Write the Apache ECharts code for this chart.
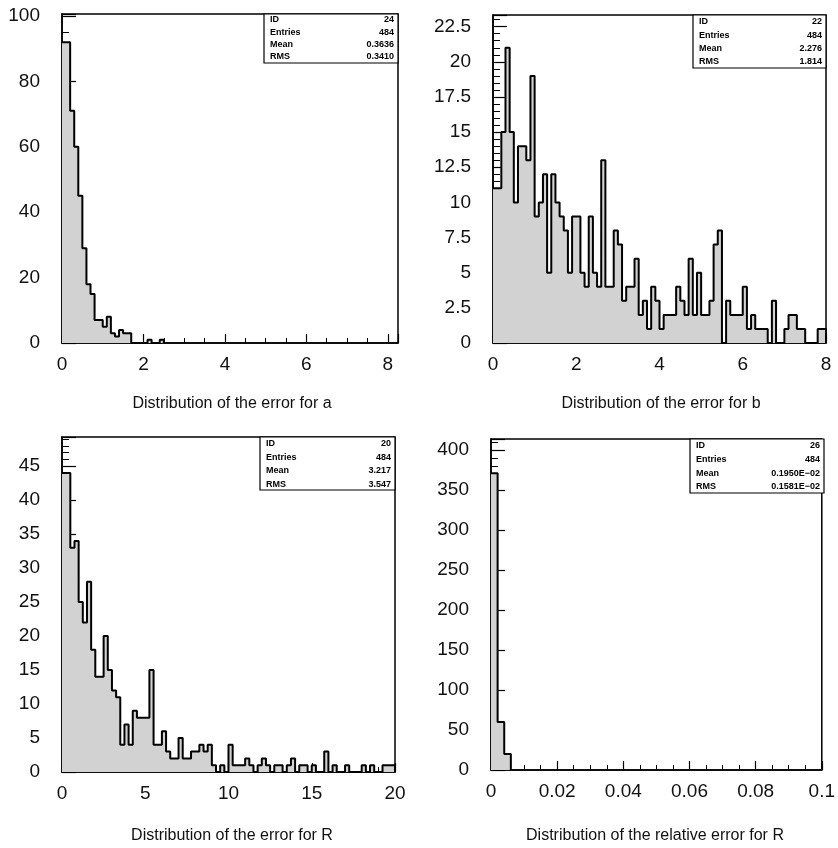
<!DOCTYPE html>
<html>
<head>
<meta charset="utf-8">
<script src="https://cdn.jsdelivr.net/npm/echarts@6/dist/echarts.min.js"></script>
<style>
html, body { margin: 0; padding: 0; background: #fff; }
#chart { width: 838px; height: 848px; }
</style>
</head>
<body>
<div id="chart"></div>
<script>
// ---- histogram contents (bins start at 0) ----
const binWidthA = 0.1;
const countsA = [92, 92, 71, 60, 45, 29, 18, 15, 7, 7, 5, 8, 3, 2, 4, 3, 3, 0, 0, 0, 0, 1, 0, 0, 1];

const binWidthB = 0.1;
const countsB = [11, 11, 15, 21, 15, 10, 14, 14, 13, 19,
                 9, 10, 12, 5, 12, 10, 9, 8, 5, 9,
                 9, 5, 4, 9, 5, 4, 13, 4, 4, 8,
                 7, 3, 4, 4, 6, 2, 3, 1, 4, 3,
                 1, 2, 2, 2, 4, 3, 2, 6, 2, 5,
                 2, 2, 3, 7, 8, 0, 3, 2, 2, 2,
                 4, 1, 2, 1, 1, 1, 0, 3, 0, 0,
                 1, 2, 2, 1, 1, 0, 0, 0, 1, 1];

const binWidthR = 0.25;
const countsR = [44, 44, 33, 34, 25, 22, 28, 18, 14, 14,
                 20, 15, 12, 11, 4, 7, 4, 9, 8, 8,
                 8, 15, 4, 4, 6, 3, 2, 2, 5, 2,
                 2, 3, 3, 4, 3, 4, 1, 0, 1, 0,
                 4, 1, 1, 1, 2, 1, 0, 1, 2, 1,
                 0, 1, 1, 0, 1, 2, 0, 1, 1, 0,
                 1, 0, 0, 3, 0, 1, 0, 0, 1, 0,
                 0, 0, 1, 0, 1, 0, 0, 1, 1, 1];

const binWidthRel = 0.002;
const countsRel = [371, 60, 20];

// ---- texts ----
const titles = [
  'Distribution of the error for a',
  'Distribution of the error for b',
  'Distribution of the error for R',
  'Distribution of the relative error for R'
];
const statLabels = ['ID', 'Entries', 'Mean', 'RMS'];
const statsA = ['24', '484', '0.3636', '0.3410'];
const statsB = ['22', '484', '2.276', '1.814'];
const statsR = ['20', '484', '3.217', '3.547'];
const statsRel = ['26', '484', '0.1950E\u221202', '0.1581E\u221202'];

// ---- layout of the four frames ----
const panels = [
  { counts: countsA, width: binWidthA, stats: statsA, title: titles[0],
    grid: { left: 62, top: 14, width: 336, height: 329 },
    x: { max: 8.25, interval: 2, minor: 4, digits: 0 },
    y: { max: 100.6, interval: 20, minor: 4, digits: 0 },
    box: { x: 264, y: 14, w: 134, h: 49, rows: [20, 32.5, 45, 57] },
    titlePos: [232, 404] },
  { counts: countsB, width: binWidthB, stats: statsB, title: titles[1],
    grid: { left: 493, top: 15, width: 333, height: 328 },
    x: { max: 8, interval: 2, minor: 4, digits: 0 },
    y: { max: 23.33, interval: 2.5, minor: 5, digits: 1 },
    box: { x: 693, y: 15, w: 133, h: 53, rows: [22, 35.5, 48.5, 61.5] },
    titlePos: [661, 404] },
  { counts: countsR, width: binWidthR, stats: statsR, title: titles[2],
    grid: { left: 62, top: 437, width: 333, height: 335 },
    x: { max: 20, interval: 5, minor: 5, digits: 0 },
    y: { max: 49.3, interval: 5, minor: 5, digits: 0 },
    box: { x: 260, y: 437, w: 135, h: 53, rows: [444, 457.5, 471, 484.5] },
    titlePos: [232, 836] },
  { counts: countsRel, width: binWidthRel, stats: statsRel, title: titles[3],
    grid: { left: 491, top: 439, width: 333, height: 331 },
    x: { max: 0.1, interval: 0.02, minor: 4, digits: 2 },
    y: { max: 413.7, interval: 50, minor: 5, digits: 0 },
    box: { x: 690, y: 439, w: 134, h: 54, rows: [446, 460, 473.5, 487] },
    titlePos: [655, 836] }
];

const FONT = 'Liberation Sans';
const TITLE_FONT = '"Liberation Sans Narrow", "Liberation Sans", sans-serif';

// step outline points: one point per bin at its left edge, then a drop to zero
function stepPoints(counts, w) {
  const pts = counts.map((c, i) => [i * w, c]);
  pts.push([counts.length * w, 0]);
  return pts;
}

function tickFormatter(interval, digits) {
  return function (v) {
    const r = v / interval;
    if (Math.abs(r - Math.round(r)) > 1e-6) return '';
    return String(Number(v.toFixed(digits + 2)));
  };
}

const grids = [], xAxes = [], yAxes = [], series = [], graphics = [];

panels.forEach((p, i) => {
  grids.push(Object.assign({ show: true, borderColor: '#000', borderWidth: 1.5,
                             backgroundColor: 'transparent' }, p.grid));
  xAxes.push({
    type: 'value', gridIndex: i, min: 0, max: p.x.max, interval: p.x.interval,
    axisLine: { show: true, onZero: false, lineStyle: { color: '#000', width: 1.5 } },
    axisTick: { show: true, inside: true, length: 9, lineStyle: { color: '#000', width: 1.2 } },
    minorTick: { show: true, splitNumber: p.x.minor, length: 5, lineStyle: { color: '#000', width: 1 } },
    splitLine: { show: false },
    axisLabel: { color: '#111', fontFamily: FONT, fontSize: 19, margin: 12,
                 formatter: tickFormatter(p.x.interval, p.x.digits) }
  });
  yAxes.push({
    type: 'value', gridIndex: i, min: 0, max: p.y.max, interval: p.y.interval,
    axisLine: { show: true, onZero: false, lineStyle: { color: '#000', width: 1.5 } },
    axisTick: { show: true, inside: true, length: 14, lineStyle: { color: '#000', width: 1.2 } },
    minorTick: { show: true, splitNumber: p.y.minor, length: 7, lineStyle: { color: '#000', width: 1 } },
    splitLine: { show: false },
    axisLabel: { color: '#111', fontFamily: FONT, fontSize: 19, margin: 22,
                 formatter: tickFormatter(p.y.interval, p.y.digits) }
  });
  series.push({
    type: 'line', xAxisIndex: i, yAxisIndex: i, step: 'end',
    data: stepPoints(p.counts, p.width),
    symbol: 'none', silent: true, animation: false, z: 2,
    lineStyle: { color: '#000', width: 2 },
    areaStyle: { color: '#d2d2d2', opacity: 1 }
  });

  // statistics box
  const b = p.box;
  graphics.push({ type: 'rect', z: 100,
    shape: { x: b.x, y: b.y, width: b.w, height: b.h },
    style: { fill: '#fff', stroke: '#000', lineWidth: 1.2 } });
  statLabels.forEach((lab, k) => {
    graphics.push({ type: 'text', z: 101, x: b.x + 6, y: b.rows[k],
      style: { text: lab, font: 'bold 9px ' + FONT, fill: '#000',
               textAlign: 'left', textVerticalAlign: 'middle' } });
    graphics.push({ type: 'text', z: 101, x: b.x + b.w - 4, y: b.rows[k],
      style: { text: p.stats[k], font: 'bold 9px ' + FONT, fill: '#000',
               textAlign: 'right', textVerticalAlign: 'middle' } });
  });

  // caption under each frame
  graphics.push({ type: 'text', z: 101, x: p.titlePos[0], y: p.titlePos[1],
    style: { text: p.title, font: '16px ' + TITLE_FONT, fill: '#111',
             textAlign: 'center', textVerticalAlign: 'middle' } });
});

const chart = echarts.init(document.getElementById('chart'), null, { renderer: 'canvas' });
chart.setOption({
  animation: false,
  backgroundColor: '#fff',
  grid: grids,
  xAxis: xAxes,
  yAxis: yAxes,
  series: series,
  graphic: { elements: graphics }
});
</script>
</body>
</html>
